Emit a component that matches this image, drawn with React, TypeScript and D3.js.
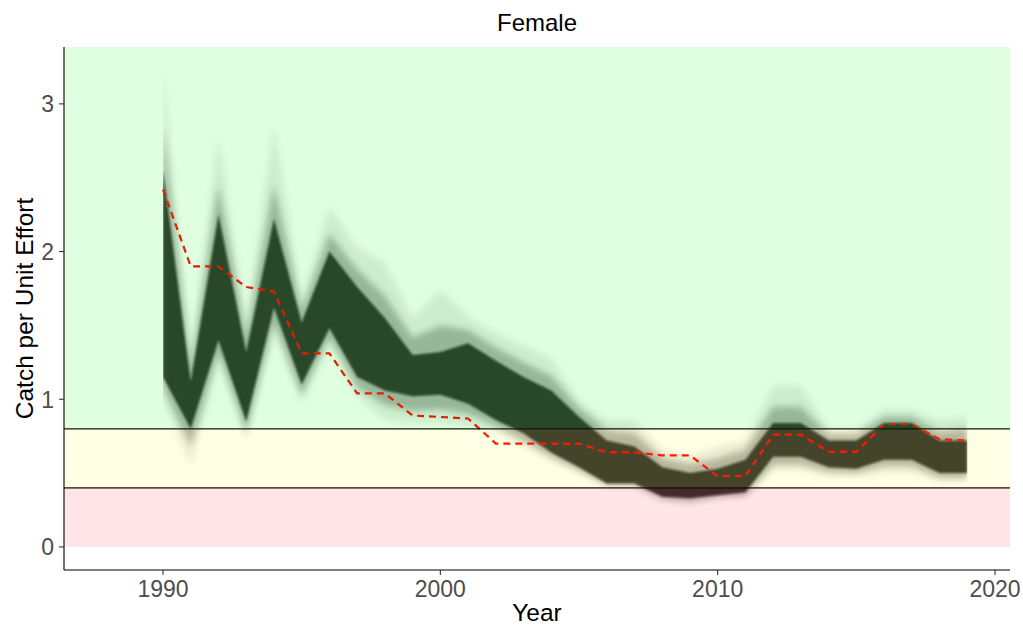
import * as d3 from "d3";

// observed index (red dashed line)
const YEARS = d3.range(1990, 2020);
const OBS = [2.42, 1.9, 1.9, 1.76, 1.73, 1.31, 1.31, 1.04, 1.04, 0.89, 0.88, 0.87, 0.7, 0.7, 0.7, 0.7, 0.64, 0.64, 0.62, 0.62, 0.48, 0.48, 0.76, 0.76, 0.645, 0.645, 0.83, 0.83, 0.73, 0.72];

// ensemble envelope: dense core, middle and faint outer spread
const CORE_LO = [1.15, 0.8, 1.4, 0.85, 1.62, 1.1, 1.48, 1.15, 1.06, 1.02, 1.03, 0.97, 0.86, 0.77, 0.64, 0.54, 0.43, 0.43, 0.34, 0.33, 0.35, 0.37, 0.61, 0.61, 0.54, 0.53, 0.59, 0.59, 0.5, 0.5];
const CORE_HI = [2.55, 1.12, 2.25, 1.32, 2.22, 1.52, 2.0, 1.76, 1.55, 1.3, 1.32, 1.38, 1.26, 1.15, 1.06, 0.88, 0.72, 0.68, 0.54, 0.5, 0.53, 0.59, 0.84, 0.84, 0.72, 0.72, 0.84, 0.84, 0.72, 0.72];
const MID_LO = [1.08, 0.68, 1.32, 0.78, 1.52, 1.03, 1.42, 1.08, 0.96, 0.92, 0.93, 0.9, 0.82, 0.72, 0.61, 0.52, 0.42, 0.42, 0.33, 0.31, 0.34, 0.35, 0.56, 0.56, 0.51, 0.5, 0.55, 0.55, 0.47, 0.47];
const MID_HI = [2.85, 1.2, 2.45, 1.42, 2.45, 1.6, 2.12, 1.88, 1.7, 1.42, 1.5, 1.47, 1.35, 1.25, 1.16, 0.94, 0.79, 0.77, 0.6, 0.56, 0.6, 0.66, 0.95, 0.95, 0.76, 0.76, 0.88, 0.88, 0.78, 0.8];
const OUT_LO = [1.0, 0.55, 1.25, 0.72, 1.45, 0.97, 1.37, 1.02, 0.86, 0.84, 0.84, 0.82, 0.78, 0.68, 0.58, 0.5, 0.41, 0.41, 0.31, 0.3, 0.33, 0.34, 0.52, 0.52, 0.48, 0.48, 0.5, 0.5, 0.45, 0.45];
const OUT_HI = [3.22, 1.3, 2.78, 1.52, 2.85, 1.68, 2.3, 2.03, 1.92, 1.55, 1.74, 1.56, 1.45, 1.36, 1.28, 0.99, 0.86, 0.86, 0.66, 0.62, 0.68, 0.72, 1.09, 1.09, 0.8, 0.8, 0.93, 0.93, 0.86, 0.88];

const X_TICKS = [1990, 2000, 2010, 2020];
const Y_TICKS = [0, 1, 2, 3];
const LIMIT_TARGET = 0.8;
const LIMIT_LOW = 0.4;

const W = 1023;
const H = 626;
const FONT = "'Liberation Sans', Arial, Helvetica, sans-serif";

export default function App() {
  const left = 64, right = 1010, top = 47, bottom = 570;
  const x = d3.scaleLinear().domain([1986.43, 2020.54]).range([left, right]);
  const y = d3.scaleLinear().domain([-0.156, 3.385]).range([bottom, top]);

  const band = (lo: number[], hi: number[]) =>
    d3.area<number>()
      .x((_, i) => x(YEARS[i]))
      .y0((_, i) => y(lo[i]))
      .y1((_, i) => y(hi[i]))(YEARS) as string;

  const obsLine = d3.line<number>()
    .x((_, i) => x(YEARS[i]))
    .y((d) => y(d))(OBS) as string;

  const x0 = x(YEARS[0]);
  const x1 = x(YEARS[YEARS.length - 1]);

  return (
    <svg width={W} height={H} style={{ position: "absolute", left: 0, top: 0, background: "#fff" }}>
      <defs>
        <clipPath id="yrs">
          <rect x={x0} y={top} width={x1 - x0} height={bottom - top} />
        </clipPath>
        <filter id="soft" x="-5%" y="-20%" width="110%" height="140%">
          <feGaussianBlur stdDeviation="3" />
        </filter>
        <filter id="soft2" x="-5%" y="-20%" width="110%" height="140%">
          <feGaussianBlur stdDeviation="1.2" />
        </filter>
      </defs>

      {/* ensemble runs */}
      <g clipPath="url(#yrs)">
        <path d={band(OUT_LO, OUT_HI)} fill="#000" fillOpacity={0.08} filter="url(#soft)" />
        <path d={band(MID_LO, MID_HI)} fill="#000" fillOpacity={0.26} filter="url(#soft)" />
        <path d={band(CORE_LO, CORE_HI)} fill="#111" fillOpacity={0.8} filter="url(#soft2)" />
      </g>

      <path d={obsLine} fill="none" stroke="#ff0000" strokeWidth={2.2} strokeDasharray="7,5" />

      {/* reference limits */}
      <line x1={left} x2={right} y1={y(LIMIT_TARGET)} y2={y(LIMIT_TARGET)} stroke="#000" strokeWidth={1.3} />
      <line x1={left} x2={right} y1={y(LIMIT_LOW)} y2={y(LIMIT_LOW)} stroke="#000" strokeWidth={1.3} />

      {/* zone shading drawn on top */}
      <rect x={left} y={top} width={right - left} height={y(LIMIT_TARGET) - top} fill="#00ff00" fillOpacity={0.12} />
      <rect x={left} y={y(LIMIT_TARGET)} width={right - left} height={y(LIMIT_LOW) - y(LIMIT_TARGET)} fill="#ffff00" fillOpacity={0.1} />
      <rect x={left} y={y(LIMIT_LOW)} width={right - left} height={y(0) - y(LIMIT_LOW)} fill="#ff0000" fillOpacity={0.1} />

      {/* axes */}
      <line x1={left} x2={left} y1={top} y2={bottom} stroke="#000" strokeWidth={1.1} />
      <line x1={left} x2={right} y1={bottom} y2={bottom} stroke="#000" strokeWidth={1.1} />
      {X_TICKS.map((t) => (
        <g key={t}>
          <line x1={x(t)} x2={x(t)} y1={bottom} y2={bottom + 5} stroke="#333" strokeWidth={1.1} />
          <text x={x(t)} y={597} textAnchor="middle" fontFamily={FONT} fontSize={23} fill="#4d4d4d">{t}</text>
        </g>
      ))}
      {Y_TICKS.map((t) => (
        <g key={t}>
          <line x1={left - 5} x2={left} y1={y(t)} y2={y(t)} stroke="#333" strokeWidth={1.1} />
          <text x={54} y={y(t)} dy="0.36em" textAnchor="end" fontFamily={FONT} fontSize={23} fill="#4d4d4d">{t}</text>
        </g>
      ))}

      <text x={(left + right) / 2} y={621} textAnchor="middle" fontFamily={FONT} fontSize={24.5} fill="#000">Year</text>
      <text transform={`translate(33,${(top + bottom) / 2}) rotate(-90)`} textAnchor="middle" fontFamily={FONT} fontSize={24.5} fill="#000">Catch per Unit Effort</text>
      <text x={(left + right) / 2} y={31} textAnchor="middle" fontFamily={FONT} fontSize={24} fill="#000">Female</text>
    </svg>
  );
}
